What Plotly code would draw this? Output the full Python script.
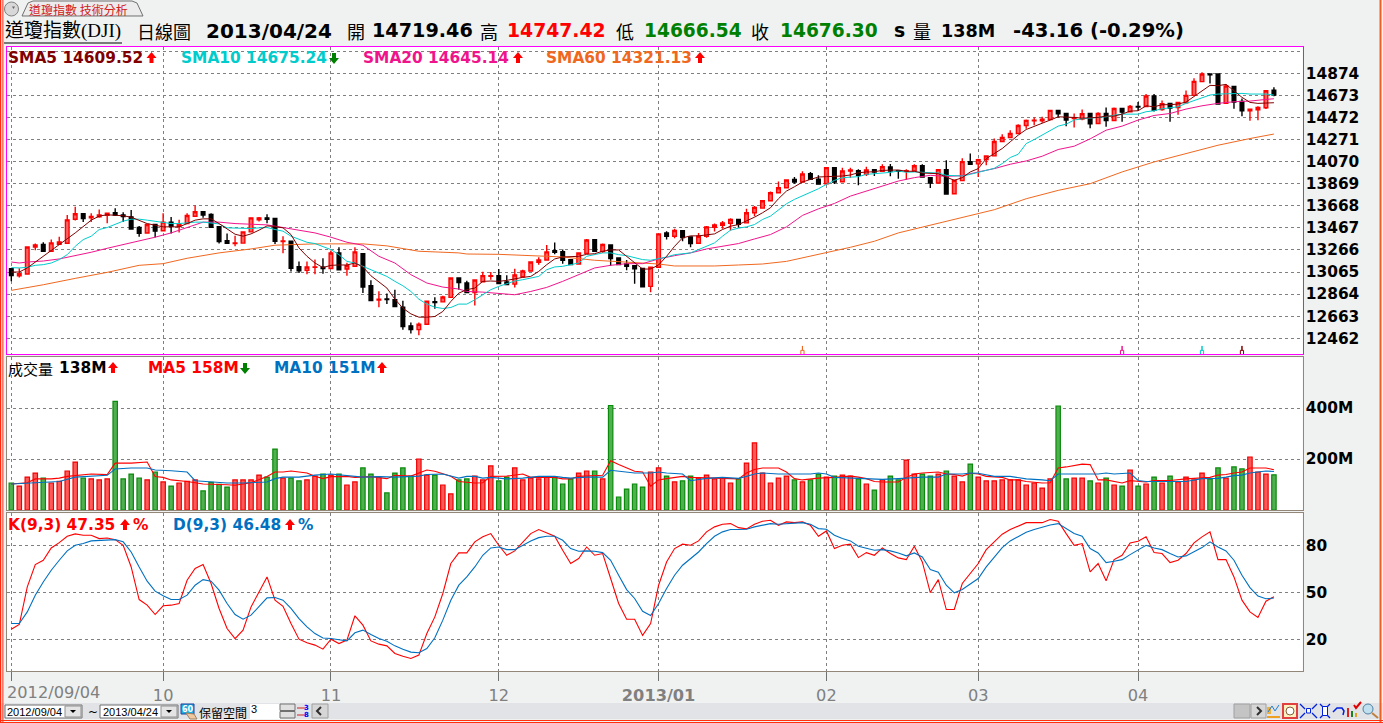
import plotly.graph_objects as go

W, H = 1383, 723

opens = [13095,13030,13047,13293,13315,13254,13318,13327,13546,13595,
13558,13567,13582,13604,13585,13567,13470,13420,13497,13440,
13519,13478,13507,13573,13613,13590,13478,13351,13325,13328,
13430,13540,13558,13552,13342,13345,13113,13080,13108,13108,
13097,13238,13092,13117,13232,12940,12810,12820,12812,12745,
12575,12541,12590,12795,12793,12834,13010,12965,12879,12977,
13025,13031,12974,12955,13022,13074,13153,13175,13260,13250,
13178,13138,13235,13360,13251,13312,13193,13138,13123,13098,
12934,13108,13421,13391,13440,13385,13327,13391,13473,13491,
13509,13543,13512,13604,13647,13714,13787,13832,13908,13884,
13960,13911,13869,14015,13887,13985,13988,13954,13997,13982,
14022,13988,13982,13985,14033,13924,13875,13997,13778,13897,
14070,14049,14088,14122,14253,14289,14326,14399,14441,14441,
14453,14536,14508,14463,14457,14508,14417,14508,14444,14554,
14524,14572,14572,14667,14545,14600,14563,14606,14673,14798,
14867,14867,14600,14755,14618,14533,14542,14560,14719]
highs = [13100,13100,13293,13324,13335,13360,13385,13585,13660,13600,
13600,13635,13605,13645,13610,13630,13485,13500,13505,13600,
13565,13540,13600,13670,13613,13600,13480,13415,13395,13435,
13560,13565,13590,13555,13390,13350,13160,13160,13180,13190,
13260,13290,13150,13290,13235,12990,12890,12870,12904,12803,
12605,12605,12805,12835,12850,13015,13012,12986,12995,13068,
13065,13092,13035,13095,13086,13160,13199,13312,13333,13269,
13180,13245,13366,13362,13324,13315,13195,13175,13125,13100,
13110,13415,13436,13458,13443,13387,13421,13485,13506,13530,
13555,13545,13640,13665,13717,13799,13890,13905,13930,13982,
13975,13945,14021,14017,14015,14015,14000,14024,14000,14045,
14048,13990,14000,14046,14046,13925,13997,14082,13902,14100,
14143,14097,14125,14280,14320,14356,14411,14454,14472,14478,
14538,14538,14510,14508,14545,14510,14520,14563,14563,14556,
14585,14612,14685,14685,14627,14602,14612,14718,14828,14883,
14870,14870,14776,14757,14645,14550,14575,14718,14747]
lows = [12980,13015,13047,13263,13254,13250,13318,13327,13535,13520,
13520,13560,13510,13575,13520,13455,13385,13420,13380,13435,
13415,13425,13505,13570,13560,13470,13325,13325,13300,13328,
13430,13525,13510,13320,13235,13070,13055,13045,13045,13050,
13095,13080,13030,13115,12875,12805,12745,12775,12750,12540,
12505,12490,12590,12730,12790,12832,12904,12875,12760,12970,
12995,12955,12948,12925,13020,13074,13132,13175,13226,13141,
13130,13138,13235,13254,13238,13123,13130,13080,12958,12925,
12880,13105,13360,13372,13345,13290,13327,13378,13433,13458,
13443,13467,13510,13573,13645,13714,13787,13832,13869,13884,
13906,13863,13866,13866,13884,13924,13854,13939,13939,13980,
13936,13915,13906,13985,13928,13830,13875,13775,13778,13895,
14044,13930,14036,14120,14250,14287,14324,14368,14402,14423,
14450,14472,14393,14380,14447,14374,14415,14387,14438,14432,
14518,14533,14570,14527,14533,14432,14496,14604,14671,14796,
14782,14592,14598,14551,14484,14441,14447,14548,14666]
closes = [13032,13050,13293,13312,13254,13330,13339,13540,13595,13552,
13570,13585,13600,13583,13570,13457,13418,13497,13437,13519,
13482,13497,13580,13613,13583,13473,13342,13327,13330,13430,
13558,13558,13546,13345,13348,13098,13077,13110,13112,13097,
13238,13086,13123,13248,12928,12806,12818,12815,12751,12569,
12541,12590,12800,12788,12837,13010,12968,12879,12992,13032,
13031,12961,12950,13038,13074,13156,13175,13248,13245,13172,
13132,13238,13357,13254,13315,13187,13132,13117,13095,12931,
13108,13412,13391,13443,13379,13324,13391,13476,13494,13512,
13543,13500,13604,13653,13714,13787,13832,13902,13884,13957,
13908,13865,14015,13884,13985,13994,13945,13994,13975,14024,
13985,13982,13988,14033,13930,13875,13997,13775,13900,14070,
14046,14088,14122,14253,14289,14326,14399,14445,14447,14457,
14536,14505,14448,14469,14505,14414,14508,14444,14554,14520,
14572,14566,14667,14536,14597,14557,14609,14673,14800,14867,
14861,14594,14758,14612,14533,14548,14563,14715,14676]

sma5_x = [0,1,2,4,6,8,10,11,12,14,15,16,17,19] + list(range(20, 159))
sma5 = [13065,13065,13102,13208,13315,13421,13537,13574,13586,13577,13564,13537,13506,13476,
13473,13476,13506,13537,13549,13549,13506,13458,13409,13391,13412,13446,13485,13479,13467,13406,13284,13208,13147,13105,13126,13129,13129,13147,13111,13031,12971,12919,12818,12736,12684,12654,12654,12660,12706,12797,12873,
12904,12919,12980,12983,12980,12989,13004,13016,13025,13071,13132,13184,13202,13202,13208,13226,13232,13254,13266,13266,13208,13147,13092,13092,13129,13208,13299,13376,13394,13394,13400,13412,13452,13482,13497,13528,13564,13604,13650,13732,13802,13841,13884,13908,13930,13933,13933,13939,13948,13969,13975,13978,13990,13994,13994,
13982,13982,13966,13960,13960,13930,13899,13924,13976,14006,14097,14143,14189,14250,14311,14362,14393,14417,14448,14478,14478,14472,14466,14466,14472,14484,14484,14502,14530,14533,14578,14569,14588,14588,14594,14612,14661,14712,14764,14761,14773,14715,14655,14609,14600,14603,14606]
sma10 = [13105,13102,13108,13126,13132,13147,13178,13223,13299,13360,13391,13452,13470,13497,13528,13546,13546,13537,13525,13513,13506,13506,13513,13519,13519,13513,13503,13467,13464,13461,13461,13467,13470,13452,13437,13391,13360,13336,13324,13299,13269,13223,13162,13147,13117,13080,13050,13025,12980,12940,12888,12818,12773,12745,12733,12742,12773,
12773,12812,12858,12904,12934,12958,12983,12995,13010,13025,13086,13111,13117,13129,13147,13208,13223,13239,13239,13223,13214,13193,13178,13172,13184,13202,13223,13232,13239,13269,13299,13330,13391,13446,13464,13476,13497,13543,13574,13634,13686,13726,13756,13787,13823,13863,13899,13924,13930,13933,13954,13960,13963,13972,13985,
13973,13976,13973,13970,13966,13945,13939,13939,13954,13973,13997,14009,14052,14107,14137,14234,14271,14311,14356,14393,14411,14448,14460,14466,14472,14478,14493,14502,14502,14502,14524,14533,14551,14557,14569,14600,14624,14655,14676,14685,14688,14691,14691,14685,14685,14685,14676]
sma20_x = [0,1,2] + list(range(4, 57, 2)) + list(range(57, 158, 2)) + [158]
sma20 = [13156,13147,13156,13165,13184,13214,13245,13281,13315,13345,13382,13421,13467,13519,13519,13506,13500,13494,13470,13443,13421,13382,13336,13309,13208,13147,13041,12965,12928,12910,
12888,12882,12867,12858,12888,12925,12980,13041,13102,13126,13141,13141,13184,13214,13239,13275,13299,13324,13366,13406,13476,13580,13640,13689,13756,13802,13848,13893,
13924,13945,13936,13942,13976,14006,14046,14076,14119,14180,14210,14277,14356,14393,14448,14490,14508,14548,14578,14600,14615,14621,14636,14642]
sma60_x = [0,4,8,12,16,19,22,26,30,33,38,44,47,51,56,57,61,65,69,73,77,81,83,86,88,91,94,97,100,103,105,108,111,123,127,131,135,139,143,147,151,155,158]
sma60 = [12898,12949,13007,13062,13126,13141,13190,13239,13275,13309,13321,13321,13303,13254,13239,
13229,13226,13211,13202,13172,13153,13138,13120,13120,13120,13129,13138,13162,13208,13260,13290,13345,13421,
13632,13732,13808,13869,13976,14067,14143,14219,14280,14321]

signal_days = [99, 139, 149, 154]

volume = [106,94,129,145,125,106,112,153,188,125,122,118,122,426,122,141,125,118,149,110,94,106,112,118,75,108,101,90,118,118,118,137,129,239,125,125,114,118,133,141,137,141,98,110,165,141,129,67,145,165,133,200,137,137,98,63,118,
122,133,118,173,114,129,165,118,125,122,129,129,102,122,145,153,153,122,410,51,82,102,90,149,165,133,110,114,133,125,137,122,125,106,122,184,263,145,106,125,133,118,110,118,141,129,133,137,133,122,102,78,118,133,118,196,141,
141,133,141,153,133,110,180,129,114,114,118,118,118,98,106,86,122,408,122,125,125,114,106,125,98,94,157,94,102,129,106,133,110,129,118,145,122,165,125,169,161,208,149,141,138]
vol_color = list("GRRRGRRRRGRRRGGGGRGRGRRRGGGGRRRRGGRGGRRGRGRRGGRGGGGRRGRRG"
                 "GRRRGGRRRRRGGGRRGRGGGGGRRGRGGRRRRRGRRRRRRGRGGRGRRGRGRGGRR"
                 "GGRGRRGRRRRRRRRRRGGRRGRGRGRGRGRGRRRRGGRGGRRRG")

vma5_x = [0,2,3,5,6,7,10,12,13,15,17,18,19,20,22,23,24,27,28,30,32,33,34,35,36,37,38,39,40,42,43,45,47,48,50,51,52,53,55,56,
57,58,59,60,62,64,65,68,69,70,71,73,74,75,76,78,79,80,81,82,84,85,87,89,91,92,93,94,96,97,98,99,100,101,103,105,106,107,108,109,111,112,113,
114,116,117,118,119,120,121,122,123,124,125,126,127,128,129,130,131,132,133,134,135,136,137,139,140,142,143,145,147,148,150,151,152,153,154,155,156,157,158]
vma5 = [102,107,122,122,125,132,141,139,184,184,188,131,128,118,112,106,102,99,97,107,131,149,149,153,148,145,132,123,131,132,128,131,123,136,133,145,157,152,132,112,
110,106,107,132,133,141,128,128,122,122,132,136,136,193,178,152,149,93,118,123,132,128,125,123,122,145,159,165,165,149,123,118,122,125,128,133,129,123,112,110,110,128,141,
145,149,141,139,133,144,141,132,129,128,118,118,112,109,106,107,165,169,174,180,178,118,118,106,115,110,116,116,122,123,128,137,139,145,149,165,165,165,158]
vma10_x = [0,2,4,6,8,10,12,13,15,17,18,20,22,23,25,27,29,32,33,34,36,38,40,42,44,46,48,51,52,54,56,
57,58,59,60,62,64,66,68,69,70,72,74,75,76,78,80,81,82,84,85,87,89,91,92,93,94,96,98,100,101,102,103,105,107,109,111,113,
114,116,117,119,120,121,122,123,125,126,127,129,130,131,136,137,138,140,141,142,145,147,149,151,152,153,154,155,156,157,158]
vma10 = [102,105,110,112,129,133,136,161,165,165,157,154,149,115,110,106,106,110,123,129,129,137,141,136,129,131,129,133,139,141,125,
132,132,125,128,122,125,132,132,128,125,129,129,156,152,145,145,149,145,141,115,124,128,124,132,141,145,141,141,141,145,141,128,125,124,120,123,128,
129,129,141,141,145,144,137,132,132,128,122,118,115,141,141,145,141,145,116,112,112,112,123,124,129,135,137,145,149,153,151]

k_line = [26.5,29.5,53.6,67.9,70.7,78.6,82.0,86.1,87.6,86.7,86.7,84.6,85.0,83.9,80.3,66.4,45.5,41.9,35.9,41.5,41.9,43.0,57.9,65.4,67.9,55.8,39.8,26.9,20.5,25.9,40.8,50.4,60.0,45.1,41.2,30.1,20.1,17.8,16.3,13.7,20.1,17.3,19.5,35.1,29.1,19.0,16.9,15.8,10.9,9.2,7.7,9.9,23.7,34.4,49.4,68.6,75.4,
75.4,82.5,85.7,87.8,80.3,73.9,76.7,82.5,87.8,90.4,88.2,86.1,77.1,68.6,71.8,79.2,73.9,75.0,59.0,43.0,32.9,32.9,22.5,30.1,54.7,69.6,78.2,81.0,80.3,83.1,88.9,92.1,93.8,94.2,91.6,90.8,93.8,95.7,96.3,93.1,95.3,94.8,95.3,93.1,86.1,89.5,78.2,80.3,81.0,72.4,75.6,73.9,78.6,75.0,72.2,71.1,79.7,
69.6,50.0,58.3,39.1,39.1,55.8,62.2,68.6,77.5,82.5,87.4,90.4,92.5,94.8,94.8,94.8,96.8,95.7,87.8,80.3,81.4,63.2,68.6,57.5,71.1,73.9,81.8,82.9,85.7,75.6,75.0,69.2,70.7,75.0,81.8,85.7,88.9,71.1,71.1,60.0,45.1,37.6,34.0,44.4,47.3]
d_line = [30.1,30.1,37.6,48.3,56.8,64.3,70.7,76.7,80.3,81.4,83.1,83.5,83.5,83.9,82.5,76.0,66.4,57.3,50.9,47.9,45.5,45.5,48.3,54.7,58.3,57.3,51.5,43.0,35.9,32.9,35.5,40.8,46.6,46.8,45.1,39.8,33.3,28.0,23.7,20.8,20.5,19.7,19.0,24.2,25.9,23.1,20.5,18.8,15.8,13.7,11.8,11.4,14.1,21.0,32.3,45.1,54.7,
60.0,66.4,73.9,78.6,79.2,77.5,77.5,80.3,83.1,85.2,86.1,86.1,83.5,78.2,76.5,76.7,76.5,75.6,70.7,61.1,51.9,46.2,38.0,35.3,43.0,52.6,61.1,67.5,71.8,76.0,81.4,86.1,88.9,90.4,90.4,90.6,92.1,93.3,94.2,93.8,94.2,94.2,94.8,93.8,91.0,90.6,86.7,84.6,83.1,79.7,78.6,77.1,77.5,76.7,75.4,73.5,75.4,
72.8,64.7,63.0,54.7,49.8,51.9,55.3,59.0,66.4,72.8,78.8,83.1,86.1,88.6,90.4,92.1,93.3,94.2,91.0,87.8,86.1,78.2,75.4,69.2,70.1,71.1,74.3,77.5,80.3,78.6,77.5,75.0,72.8,73.5,76.0,78.8,82.5,79.2,76.7,70.7,61.1,53.2,47.7,46.0,46.5]

month_idx = [0, 19, 40, 61, 81, 102, 121, 141]
month_txt = ["", "10", "11", "12", "<b>2013/01</b>", "02", "03", "04"]
price_ticks = [15075,14874,14673,14472,14271,14070,13869,13668,13467,13266,13065,12864,12663,12462]
price_txt = ["","14874","14673","14472","14271","14070","13869","13668","13467","13266","13065","12864","12663","12462"]

assert len(opens) == len(highs) == len(lows) == len(closes) == 159
assert len(sma5) == len(sma5_x) and len(sma20) == len(sma20_x) and len(sma60) == len(sma60_x)
assert len(sma10) == 159 and len(volume) == 159 and len(vol_color) == 159
assert len(vma5) == len(vma5_x) and len(vma10) == len(vma10_x)
assert len(k_line) == 159 and len(d_line) == 159

days = list(range(159))
GRID = "#808080"
TAN = "#93877a"
MAG = "#ff00ff"
SERIES = dict(sma5="#800000", sma10="#00cccc", sma20="#f0148c", sma60="#f06820")
CJK = "Noto Sans CJK TC"
SANS = "DejaVu Sans"
MIXED = "Liberation Serif, Noto Sans CJK TC"

fig = go.Figure()
fig.add_trace(go.Candlestick(x=days, open=opens, high=highs, low=lows, close=closes, xaxis="x", yaxis="y",
    increasing=dict(line=dict(color="#ff0000", width=1.4), fillcolor="#ff6464"),
    decreasing=dict(line=dict(color="#000000", width=1.4), fillcolor="#000000"),
    whiskerwidth=0, showlegend=False))
for xs, ys, c in [(sma60_x, sma60, SERIES["sma60"]), (sma20_x, sma20, SERIES["sma20"]),
                  (days, sma10, SERIES["sma10"]), (sma5_x, sma5, SERIES["sma5"])]:
    fig.add_trace(go.Scatter(x=xs, y=ys, mode="lines", line=dict(color=c, width=1), xaxis="x", yaxis="y", showlegend=False))
# small signal ticks at the foot of the price panel
for d, c in zip(signal_days, [SERIES["sma60"], SERIES["sma20"], SERIES["sma10"], SERIES["sma5"]]):
    fig.add_trace(go.Scatter(x=[d - 0.2, d - 0.2, d, d, d, d + 0.2, d + 0.2], y=[12316, 12352, 12352, 12392, 12352, 12352, 12316],
                             mode="lines", line=dict(color=c, width=1), xaxis="x", yaxis="y", showlegend=False))
fig.add_trace(go.Bar(x=days, y=volume, xaxis="x2", yaxis="y2", width=0.55, showlegend=False,
    marker=dict(color=["#50b050" if c == "G" else "#ff5a5a" for c in vol_color],
                line=dict(color=["#0a8a0a" if c == "G" else "#f00000" for c in vol_color], width=1.2))))
fig.add_trace(go.Scatter(x=vma5_x, y=vma5, mode="lines", line=dict(color="#ff0000", width=1.1), xaxis="x2", yaxis="y2", showlegend=False))
fig.add_trace(go.Scatter(x=vma10_x, y=vma10, mode="lines", line=dict(color="#0070c0", width=1.1), xaxis="x2", yaxis="y2", showlegend=False))
fig.add_trace(go.Scatter(x=days, y=k_line, mode="lines", line=dict(color="#ff0000", width=1.1), xaxis="x3", yaxis="y3", showlegend=False))
fig.add_trace(go.Scatter(x=days, y=d_line, mode="lines", line=dict(color="#0070c0", width=1.1), xaxis="x3", yaxis="y3", showlegend=False))

xr = [-0.576, 161.6]
xdom = [6.7 / W, 1302.7 / W]
def ydom(t, b):
    return [1 - b / H, 1 - t / H]
def xax(anchor, **kw):
    d = dict(domain=xdom, range=xr, anchor=anchor, tickmode="array", tickvals=month_idx, showgrid=True,
             gridcolor=GRID, griddash="dot", gridwidth=1, zeroline=False, showline=True, mirror=True,
             rangeslider=dict(visible=False), ticks="", showticklabels=False)
    d.update(kw)
    return d
TICKFONT = dict(family=SANS, size=15.4, color="#000000", weight="bold")
def yax(anchor, dom, rng, vals, txt, **kw):
    d = dict(domain=dom, range=rng, anchor=anchor, side="right", tickmode="array", tickvals=vals, ticktext=txt,
             showgrid=True, gridcolor=GRID, griddash="dot", gridwidth=1, zeroline=False, showline=True, mirror=True,
             tickfont=TICKFONT, ticks="", ticklabelstandoff=-1)
    d.update(kw)
    return d

shapes = []
anns = []
def X(x): return x / W
def Y(y): return 1 - y / H
def rect(x0, y0, x1, y1, fill, line=None, lw=1, layer="above"):
    shapes.append(dict(type="rect", xref="paper", yref="paper", x0=X(x0), x1=X(x1), y0=Y(y0), y1=Y(y1),
                       fillcolor=fill, line=dict(color=line or fill, width=lw if line else 0), layer=layer))
def seg(x0, y0, x1, y1, color, lw=1):
    shapes.append(dict(type="line", xref="paper", yref="paper", x0=X(x0), x1=X(x1), y0=Y(y0), y1=Y(y1),
                       line=dict(color=color, width=lw), layer="above"))
def poly(pts, fill, line=None, lw=1, close=True):
    p = "M " + " L ".join(f"{X(a):.5f} {Y(b):.5f}" for a, b in pts) + (" Z" if close else "")
    shapes.append(dict(type="path", xref="paper", yref="paper", path=p, fillcolor=fill,
                       line=dict(color=line or "rgba(0,0,0,0)", width=lw), layer="above"))
def circle(x0, y0, x1, y1, fill, line, lw=1):
    shapes.append(dict(type="circle", xref="paper", yref="paper", x0=X(x0), x1=X(x1), y0=Y(y0), y1=Y(y1),
                       fillcolor=fill, line=dict(color=line, width=lw), layer="above"))
def up(x, y, c="#ff0000"):
    poly([(x, y-6), (x+5, y), (x+2, y), (x+2, y+5), (x-2, y+5), (x-2, y), (x-5, y)], c)
def down(x, y, c="#008000"):
    poly([(x, y+6), (x+5, y), (x+2, y), (x+2, y-5), (x-2, y-5), (x-2, y), (x-5, y)], c)
def txt(x, y, s, color="#000000", size=15.4, bold=True, family=SANS):
    anns.append(dict(xref="paper", yref="paper", x=X(x), y=Y(y), text=s, showarrow=False, xanchor="left", yanchor="middle",
                     borderpad=0, borderwidth=0, font=dict(family=family, size=size, color=color, weight="bold" if bold else "normal")))

# window chrome
rect(0, 0, 1.2, H, "#ff2a10"); rect(2.4, 0, 3.4, H, "#ff2a10")
rect(1379.5, 0, 1381.5, H, "#f06020")
rect(0, 720, W, 721, "#ff3010"); rect(0, 722, W, H, "#ff3010")
# tab
circle(4.5, 2, 18.5, 16, "#d8d8d8", "#808080")
poly([(12, 6.5), (15, 6.5), (13.5, 9)], "#666666")
poly([(22, 16), (28, 3), (33, 1), (132, 1), (137, 3), (143, 16)], "#ececec", "#707070")
txt(29, 10, "道瓊指數 技術分析", "#d02020", 12, False, CJK)
# header
txt(5, 31, "道瓊指數(DJI)", "#000000", 19, False, MIXED)
seg(4, 43, 122, 43, "#000000", 1)
txt(137, 31, "日線圖", "#000000", 18, False, CJK)
txt(206, 31, "2013/04/24", "#000000", 20)
txt(347, 31, "開", "#000000", 18, False, CJK); txt(372, 31, "14719.46", "#000000", 19.2)
txt(480, 31, "高", "#000000", 18, False, CJK); txt(507, 31, "14747.42", "#ff0000", 18.8)
txt(616, 31, "低", "#000000", 18, False, CJK); txt(644, 31, "14666.54", "#008000", 18.6)
txt(751, 31, "收", "#000000", 18, False, CJK); txt(780, 31, "14676.30", "#008000", 18.6)
txt(894, 31, "s", "#000000", 18.8)
txt(913, 31, "量", "#000000", 18, False, CJK); txt(941, 31, "138M", "#000000", 17.6)
txt(1013, 31, "-43.16 (-0.29%)", "#000000", 19.6)
# indicator legends
txt(8, 58, "SMA5 14609.52", SERIES["sma5"]); up(151.5, 58)
txt(181, 58, "SMA10 14675.24", SERIES["sma10"]); down(334, 58)
txt(363, 58, "SMA20 14645.14", SERIES["sma20"]); up(518, 58)
txt(546, 58, "SMA60 14321.13", SERIES["sma60"]); up(700, 58)
txt(8, 368, "成交量", "#000000", 15, False, CJK); txt(59, 368, "138M", "#000000"); up(113, 368)
txt(148, 368, "MA5 158M", "#ff0000"); down(245, 368)
txt(274, 368, "MA10 151M", "#0070c0"); up(382, 368)
txt(8, 525, "K(9,3) 47.35", "#ff0000"); up(125, 525); txt(133, 525, "%", "#ff0000")
txt(173, 525, "D(9,3) 46.48", "#0070c0"); up(290, 525); txt(298, 525, "%", "#0070c0")
# first date label
txt(7, 692, "2012/09/04", "#808080", 16.2, False)
# bottom controls
rect(0, 703, W, 719, "#e1e3e6", layer="below")
rect(5, 705, 82, 718, "#ffffff", "#707070"); rect(65, 706, 81, 717, "#e4e4e4", "#909090")
poly([(70, 710), (76, 710), (73, 713)], "#000000")
rect(100, 705, 178, 718, "#ffffff", "#707070"); rect(161, 706, 177, 717, "#e4e4e4", "#909090")
poly([(166, 710), (172, 710), (169, 713)], "#000000")
txt(7, 712, "2012/09/04", "#000000", 11, False, "Liberation Sans")
txt(88, 712, "~", "#000000", 12, False, SANS)
txt(103, 712, "2013/04/24", "#000000", 11, False, "Liberation Sans")
rect(181, 704, 194, 714, "#20b0e0", "#2040a0"); txt(182, 709, "60", "#ffffff", 8)
poly([(186, 713), (194, 714), (197, 719), (190, 719)], "#f0c8a0", "#a08060")
txt(199, 712, "保留空間", "#000000", 12, False, CJK)
rect(250, 704, 280, 719, "#ffffff"); txt(251, 709, "3", "#000000", 11, False, "Liberation Sans")
rect(280, 704, 295, 710.5, "#e0e0e0", "#707070"); rect(280, 711.5, 295, 718, "#e0e0e0", "#707070")
seg(297, 708, 306, 708, "#d02020"); seg(297, 715, 306, 715, "#d02020")
txt(304, 707.5, "3", "#0000ff", 7); txt(304, 715, "8", "#0000ff", 7)
rect(312, 704, 328, 718, "#d6d6d6", "#a0a0a0")
poly([(321, 707), (317, 711), (321, 715)], "rgba(0,0,0,0)", "#303030", 2, False)
rect(1234, 704, 1250, 718, "#c4c4c4", "#a0a0a0")
rect(1251, 704, 1266, 718, "#d6d6d6", "#a0a0a0")
poly([(1257, 707), (1261, 711), (1257, 715)], "rgba(0,0,0,0)", "#303030", 2, False)
# right-hand toolbar icons
rect(1267, 716, 1280, 718, "#f0a020"); rect(1267, 707, 1271, 714, "#f0b040")
poly([(1268, 712), (1272, 706), (1275, 711), (1279, 705)], "rgba(0,0,0,0)", "#2080d0", 1, False)
rect(1283, 704, 1297, 718, "#fff0c0", "#e04040", 2); circle(1286, 707, 1294, 715, "#ffffff", "#806040")
for a, b, c, d in [(1300, 704, 1305, 709), (1317, 704, 1312, 709), (1300, 718, 1305, 713), (1317, 718, 1312, 713)]:
    seg(a, b, c, d, "#0020e0", 1.2)
rect(1306.5, 708.5, 1310.5, 713, "#ffffff", "#0020e0")
for a, b, c, d in [(1320, 704, 1324, 708), (1330, 704, 1326, 708), (1320, 718, 1324, 714), (1330, 718, 1326, 714)]:
    seg(a, b, c, d, "#0020e0", 1.2)
rect(1322.5, 706.5, 1327.5, 715.5, "#ffffff", "#0020e0")
poly([(1333, 712), (1337, 708), (1342, 708), (1344, 711), (1343, 715)], "rgba(0,0,0,0)", "#0020e0", 1.5, False)
rect(1347, 708, 1349, 717, "#e02020"); rect(1351, 711, 1353, 717, "#208020"); rect(1355, 713, 1357, 717, "#e0a020")
poly([(1354, 705), (1356, 708), (1361, 702)], "rgba(0,0,0,0)", "#e00000", 2, False)
circle(1363, 704, 1373, 714, "#c0e0f0", "#5080a0"); seg(1372, 713, 1378, 718, "#c08040", 2)

fig.update_layout(
    width=W, height=H, margin=dict(l=0, r=0, t=0, b=0), autosize=False,
    paper_bgcolor="#f0f2f2", plot_bgcolor="#ffffff", showlegend=False, hovermode=False,
    boxgap=0.35, bargap=0.4,
    shapes=shapes, annotations=anns,
    xaxis=xax("y", linecolor=MAG, linewidth=1),
    xaxis2=xax("y2", linecolor=TAN, linewidth=1),
    xaxis3=xax("y3", linecolor=TAN, linewidth=1, ticks="outside", ticklen=9, tickcolor="#707070",
               showticklabels=True, ticktext=month_txt,
               tickfont=dict(family=SANS, size=16.2, color="#808080")),
    yaxis=yax("x", ydom(46.7, 354.3), [12316, 15116], price_ticks, price_txt, linecolor=MAG, linewidth=1),
    yaxis2=yax("x2", ydom(357.3, 510), [0, 599], [200, 400], ["200M", "400M"], linecolor=TAN, linewidth=1),
    yaxis3=yax("x3", ydom(513.3, 671.3), [-0.5, 100.8], [20, 50, 80], ["20", "50", "80"], linecolor=TAN, linewidth=1),
)
fig.write_html("out.html", config={"displayModeBar": False}, post_script="document.body.style.margin='0';document.body.style.overflow='hidden';")
